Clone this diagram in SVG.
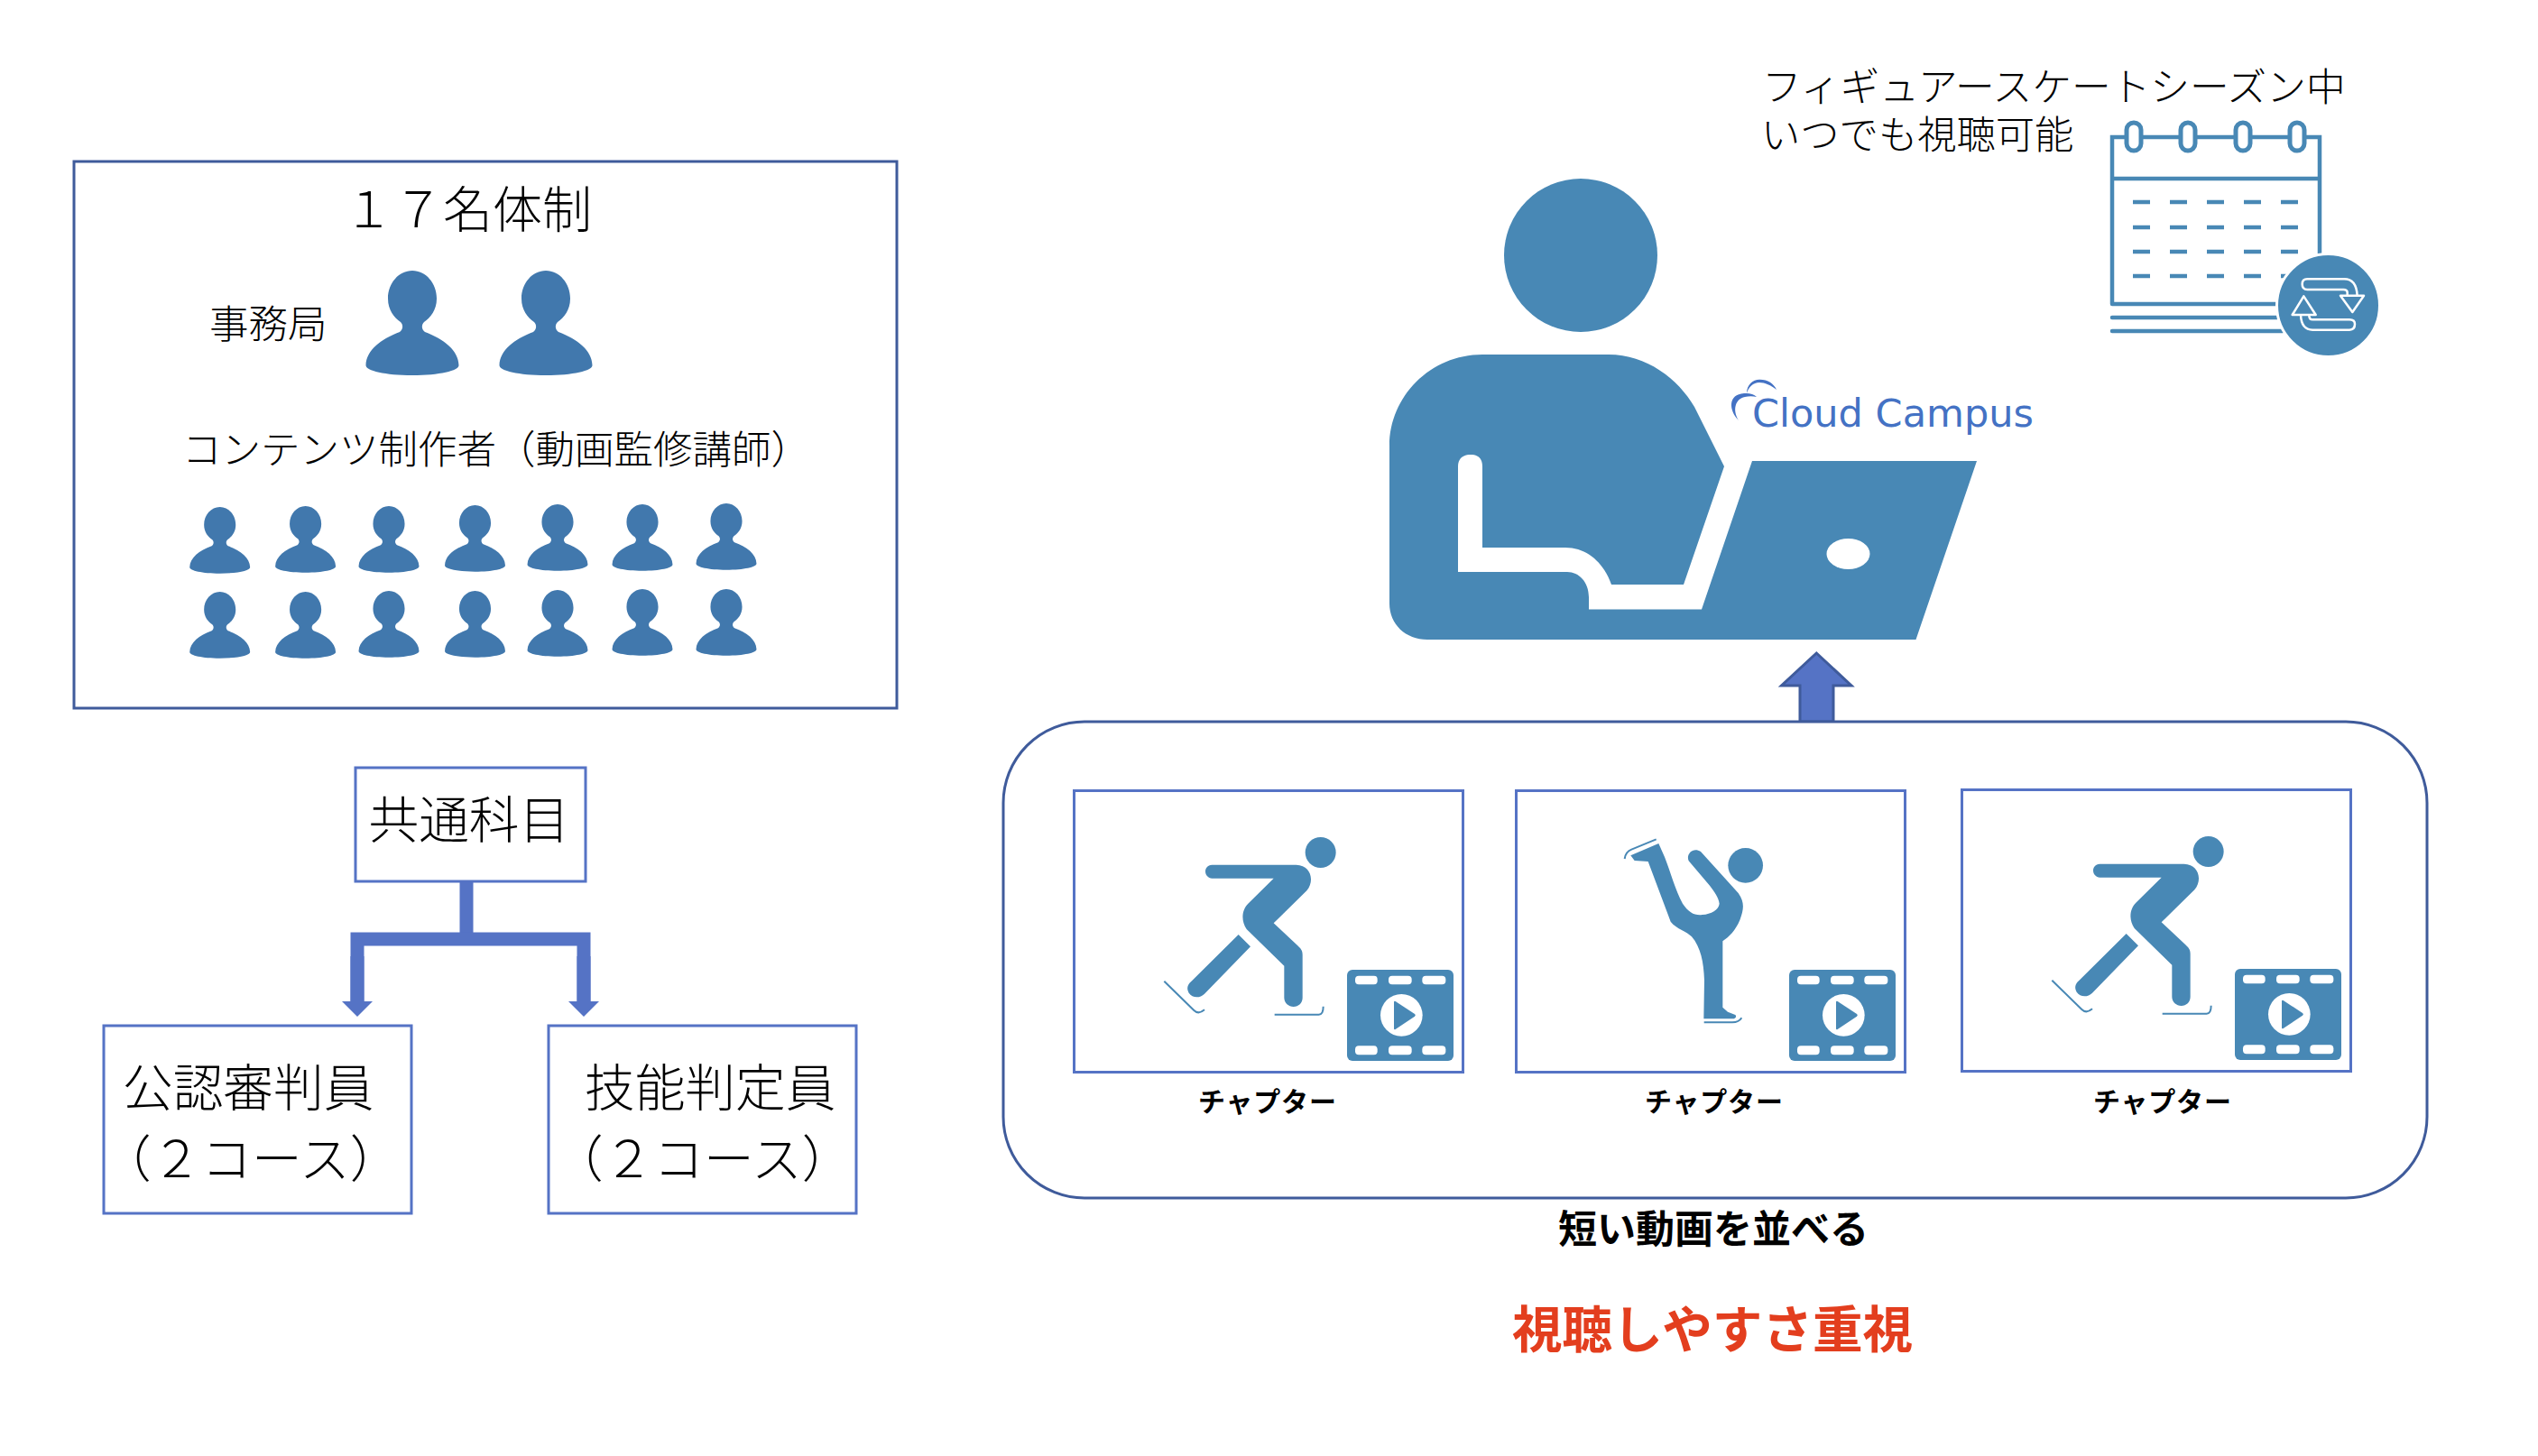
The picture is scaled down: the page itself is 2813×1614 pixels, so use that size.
<svg xmlns="http://www.w3.org/2000/svg" width="2813" height="1614" viewBox="0 0 2813 1614">
<style>
text{font-family:"Noto Sans CJK JP","Noto Sans",sans-serif;fill:#000}
.l{font-weight:300}
.b{font-weight:700}
.box{fill:#fff;stroke:#5573C5;stroke-width:3}
.dark{fill:#fff;stroke:#3F5B9B;stroke-width:3}
.p{fill:#4178AD}
.i{fill:#4888B5}
.ln{fill:none;stroke:#4888B5;stroke-width:4.5;stroke-linecap:round}
.rf{fill:none;stroke:#fff;stroke-width:7.5;stroke-linejoin:round;stroke-linecap:round}
.blade{fill:none;stroke:#4888B5;stroke-width:6}
.c{stroke:#5573C5;stroke-width:15;fill:none}
.w{fill:#fff}
</style>
<defs>
<path id="person" d="M0,0C15,0 27,14 27,31C27,44 20,52 13,57C10,60 10,65 14,68C35,76 51,88 51.5,105C51.5,111 30,116 0,116C-30,116 -51.5,111 -51.5,105C-51,88 -35,76 -14,68C-10,65 -10,60 -13,57C-20,52 -27,44 -27,31C-27,14 -15,0 0,0Z"/>
<g id="film">
<rect class="i" x="939" y="645" width="354" height="303" rx="18"/>
<rect class="w" x="966" y="665" width="74" height="29" rx="12"/><rect class="w" x="1077" y="665" width="77" height="29" rx="12"/><rect class="w" x="1189" y="665" width="78" height="29" rx="12"/>
<rect class="w" x="966" y="898" width="74" height="30" rx="12"/><rect class="w" x="1077" y="898" width="77" height="30" rx="12"/><rect class="w" x="1189" y="898" width="78" height="30" rx="12"/>
<circle class="w" cx="1120" cy="796" r="70"/>
<path class="i" d="M1100,750L1164,792Q1169,796 1164,800L1100,843Q1095,846 1095,840V753Q1095,747 1100,750Z"/>
</g>
<g id="skater">
<circle class="i" cx="851" cy="255" r="51"/>
<path class="i" d="M490,296C475,296 468,308 468,318C468,330 478,341 490,341H695L610,425C590,445 585,480 605,510L730,632V738C730,755 745,768 761,768C778,768 791,755 791,738V595C791,580 785,575 775,565L695,490L805,382C832,350 820,297 770,296Z"/>
<path class="i" d="M578,528L618,568L465,725C450,740 425,740 413,722C405,708 408,695 420,685Z"/>
<path class="blade" d="M331,683L430,780Q445,795 465,778M698,794H845Q860,794 860,767"/>
</g>
<marker id="ah" markerUnits="userSpaceOnUse" markerWidth="34" markerHeight="18" refX="17" refY="0" orient="0" viewBox="0 0 34 18"><path d="M0,0H34L17,17Z" fill="#5573C5"/></marker>
</defs>
<rect width="2813" height="1614" fill="#fff"/>

<g id="team">
<rect class="dark" x="82" y="179" width="912" height="606"/>
<text class="l" x="381" y="252" font-size="55">１７名体制</text>
<text class="l" x="232" y="375" font-size="43.5">事務局</text>
<text class="l" x="202" y="514" font-size="43.5">コンテンツ制作者（動画監修講師）</text>
<use class="p" href="#person" x="457" y="300"/>
<use class="p" href="#person" x="605" y="300"/>
<g class="p">
<use href="#person" transform="translate(243.7,562) scale(.65,.635)"/>
<use href="#person" transform="translate(338.6,561) scale(.65,.635)"/>
<use href="#person" transform="translate(431,561) scale(.65,.635)"/>
<use href="#person" transform="translate(526.5,560) scale(.65,.635)"/>
<use href="#person" transform="translate(618,559) scale(.65,.635)"/>
<use href="#person" transform="translate(712,559) scale(.65,.635)"/>
<use href="#person" transform="translate(805,558) scale(.65,.635)"/>
<use href="#person" transform="translate(243.7,656) scale(.65,.635)"/>
<use href="#person" transform="translate(338.6,656) scale(.65,.635)"/>
<use href="#person" transform="translate(431,655) scale(.65,.635)"/>
<use href="#person" transform="translate(526.5,655) scale(.65,.635)"/>
<use href="#person" transform="translate(618,654) scale(.65,.635)"/>
<use href="#person" transform="translate(712,653) scale(.65,.635)"/>
<use href="#person" transform="translate(805,653) scale(.65,.635)"/>
</g>
</g>

<g id="connectors">
<path class="c" d="M517,977V1041"/>
<path class="c" d="M396,1111V1041H647V1111"/>
<path class="c" d="M396,1060V1110" marker-end="url(#ah)"/>
<path class="c" d="M647,1060V1110" marker-end="url(#ah)"/>
<path d="M2013.3,724L2052,760H2032V800H1995V760H1974.5Z" fill="#5573C5" stroke="#3F5B9B" stroke-width="3"/>
</g>

<g id="common">
<rect class="box" x="394" y="851" width="255" height="126"/>
<text class="l" x="408.5" y="929" font-size="55.7">共通科目</text>
</g>
<g id="judge">
<rect class="box" x="115" y="1137" width="341" height="208"/>
<text class="l" x="136" y="1226" font-size="55.7">公認審判員</text>
<text class="l" x="112" y="1305" font-size="55.7">（２コース）</text>
</g>
<g id="skill">
<rect class="box" x="608" y="1137" width="341" height="208"/>
<text class="l" x="648" y="1226" font-size="55.7">技能判定員</text>
<text class="l" x="613" y="1305" font-size="55.7">（２コース）</text>
</g>

<g id="learner">
<circle class="i" cx="1752" cy="283" r="85"/>
<path class="i" d="M1540,494C1540,440 1585,393 1643,393H1783C1825,393 1860,420 1878,451L1911,517L1866,648H1786C1778,625 1760,607 1735,607H1643V517C1643,508 1638,504 1630,504C1622,504 1616,508 1616,517V634H1737C1750,634 1761,645 1761,662V675.5H1886L1942,511H2191L2123.5,709H1582C1558,709 1540,692 1540,669Z"/>
<ellipse class="w" cx="2048.5" cy="614" rx="24" ry="17"/>
<path d="M1927,466C1916,455 1915,437 1933,436C1939,435.5 1944,437 1947,440C1943,439 1938,439 1934,440C1923,442 1920,455 1927,466ZM1936,436C1936,426 1943,421 1950,420.7C1959,420.5 1966,425 1969,432C1963,427 1956,424 1950,424C1943,424 1938,429 1936,436Z" fill="#4472C4"/>
<text x="1942" y="473" font-size="42" style="font-family:'DejaVu Sans',sans-serif;fill:#4472C4" textLength="312" lengthAdjust="spacingAndGlyphs">Cloud Campus</text>
</g>

<g id="calendar">
<text class="l" x="1953" y="112" font-size="43.7">フィギュアースケートシーズン中</text>
<text class="l" x="1952" y="165" font-size="43.3">いつでも視聴可能</text>
<path class="ln" d="M2341,337V152H2571V281M2341,198H2571M2341,337H2530M2341,352H2530M2341,367H2530"/>
<g fill="#fff" stroke="#4888B5" stroke-width="5">
<rect x="2357" y="136" width="16" height="31" rx="8"/><rect x="2417" y="136" width="16" height="31" rx="8"/><rect x="2478" y="136" width="16" height="31" rx="8"/><rect x="2538" y="136" width="16" height="31" rx="8"/>
</g>
<path class="ln" stroke-dasharray="19 22" style="stroke-linecap:butt" d="M2364,224H2550M2364,252H2550M2364,279H2550M2364,306H2550"/>
<circle class="i" cx="2580.5" cy="338.5" r="57" stroke="#fff" stroke-width="3"/>
<g transform="translate(2520,275) scale(.33333)">
<path class="rf" d="M245,158V148Q245,138 232,138H112Q95,138 95,120Q95,103 112,103H235Q275,103 278,158M222,158H300L262,213Z"/>
<path class="rf" d="M118,222V225Q118,238 130,238H252Q270,238 270,253Q270,272 252,272H130Q92,272 90,222M62,222H140L100,160Z"/>
</g>
</g>

<g id="chapters">
<rect class="dark" x="1112" y="800" width="1578" height="528" rx="90"/>
<g id="chapter1">
<rect class="box" x="1190.5" y="876.5" width="431" height="312"/>
<g transform="translate(1180,860) scale(.33333)"><use href="#skater"/><use href="#film"/></g>
<text class="b" x="1328" y="1232" font-size="30" letter-spacing=".8">チャプター</text>
</g>
<g id="chapter2">
<rect class="box" x="1680.5" y="876.5" width="431" height="312"/>
<g transform="translate(1670,860) scale(.33333)">
<circle class="i" cx="794" cy="298" r="58"/>
<path class="i" d="M605,283C595,260 620,235 645,252L770,390C795,425 785,450 775,480C760,515 740,535 718,550V770L735,785L760,795C765,800 762,808 750,808H655L657,680C655,620 645,570 615,535C600,518 565,510 545,485L470,285L425,282L412,265L505,225L525,270C545,320 560,380 585,425C605,455 625,465 650,462C680,460 705,445 707,425C705,405 690,385 675,365Z"/>
<path class="blade" d="M497,211L415,245Q395,253 392,276M656,820H750Q772,820 781,805"/>
<use href="#film"/>
</g>
<text class="b" x="1823" y="1232" font-size="30" letter-spacing=".8">チャプター</text>
</g>
<g id="chapter3">
<rect class="box" x="2174.5" y="875.5" width="431" height="312"/>
<g transform="translate(2164,859) scale(.33333)"><use href="#skater"/><use href="#film"/></g>
<text class="b" x="2320" y="1232" font-size="30" letter-spacing=".8">チャプター</text>
</g>
</g>

<g id="captions">
<text class="b" x="1727" y="1378" font-size="43">短い動画を並べる</text>
<text class="b" x="1676" y="1494" font-size="55.6" style="fill:#E33E1E">視聴しやすさ重視</text>
</g>
</svg>
